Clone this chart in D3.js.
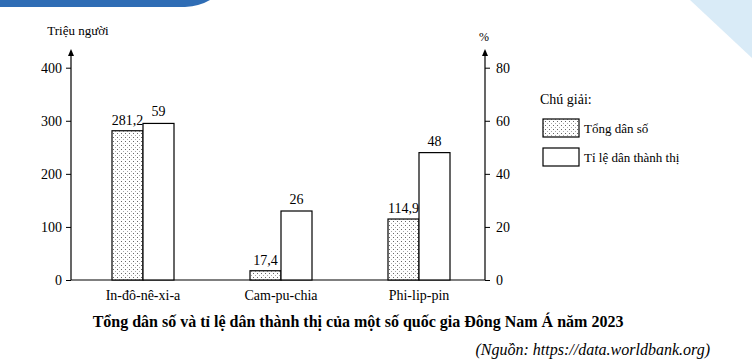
<!DOCTYPE html>
<html>
<head>
<meta charset="utf-8">
<script src="https://cdn.jsdelivr.net/npm/d3@7"></script>
<style>
  body { margin: 0; background: #fff; }
  svg { display: block; }
  svg text { font-family: "Liberation Serif", "Times New Roman", Times, serif !important; }
</style>
</head>
<body>
<script>
const w = 752;
const h = 363;

// data
const countries = ["In-đô-nê-xi-a", "Cam-pu-chia", "Phi-lip-pin"];
const population = [281.2, 17.4, 114.9];
const urbanRate = [59, 26, 48];
const leftTicks = [0, 100, 200, 300, 400];
const rightTicks = [0, 20, 40, 60, 80];

const svg = d3.select("body").append("svg")
  .attr("width", w)
  .attr("height", h);

// dotted fill pattern
const defs = svg.append("defs");
const pat = defs.append("pattern")
  .attr("id", "dots")
  .attr("patternUnits", "userSpaceOnUse")
  .attr("width", 4)
  .attr("height", 4);
pat.append("rect").attr("width", 4).attr("height", 4).attr("fill", "#fff");
pat.append("rect").attr("x", 1).attr("y", 1).attr("width", 1).attr("height", 1).attr("fill", "#666");
pat.append("rect").attr("x", 3).attr("y", 3).attr("width", 1).attr("height", 1).attr("fill", "#aaa");

// page decorations
svg.append("path")
  .attr("d", "M0,0 H210 Q200,6 185,7 H0 Z")
  .attr("fill", "#2f6db5");
svg.append("path")
  .attr("d", "M690,0 H752 V58 Z")
  .attr("fill", "#cfe6f5")
  .attr("opacity", 0.8);

// scales
const x = d3.scaleBand().domain(countries).range([74, 488]);
const yL = d3.scaleLinear().domain([0, 400]).range([280, 67.7]);
const yR = d3.scaleLinear().domain([0, 80]).range([280, 67.7]);
const barW = 31;
const axL = 71, axR = 485;

// axes
const gl = svg.append("g").attr("transform", `translate(${axL},0)`)
  .call(d3.axisLeft(yL).tickValues(leftTicks).tickSize(5).tickPadding(4));
const gr = svg.append("g").attr("transform", `translate(${axR},0)`)
  .call(d3.axisRight(yR).tickValues(rightTicks).tickSize(5).tickPadding(6));
[gl, gr].forEach(g => {
  g.select(".domain").remove();
  g.selectAll("line").attr("stroke", "#000");
  g.selectAll("text").attr("font-size", 14).attr("fill", "#000");
});

// axis lines with arrows
function arrowAxis(xp) {
  svg.append("line").attr("x1", xp).attr("x2", xp).attr("y1", 280).attr("y2", 54)
    .attr("stroke", "#000").attr("stroke-width", 1.2);
  svg.append("path").attr("d", `M${xp},49 L${xp - 3},56 L${xp + 3},56 Z`).attr("fill", "#000");
}
arrowAxis(axL);
arrowAxis(axR);
svg.append("line").attr("x1", axL).attr("x2", axR).attr("y1", 280).attr("y2", 280)
  .attr("stroke", "#000").attr("stroke-width", 1.2);

// unit labels
svg.append("text").attr("x", 78).attr("y", 35).attr("text-anchor", "middle")
  .attr("font-size", 13).text("Triệu người");
svg.append("text").attr("x", 484).attr("y", 41).attr("text-anchor", "middle")
  .attr("font-size", 12).text("%");

// bars
const gb = svg.append("g");
countries.forEach((c, i) => {
  const cx = x(c) + x.bandwidth() / 2;
  gb.append("rect")
    .attr("x", cx - barW).attr("y", yL(population[i]))
    .attr("width", barW).attr("height", yL(0) - yL(population[i]))
    .attr("fill", "url(#dots)").attr("stroke", "#000").attr("stroke-width", 1.2);
  gb.append("rect")
    .attr("x", cx).attr("y", yR(urbanRate[i]))
    .attr("width", barW).attr("height", yR(0) - yR(urbanRate[i]))
    .attr("fill", "#fff").attr("stroke", "#000").attr("stroke-width", 1.2);
  gb.append("text").attr("x", cx - barW / 2).attr("y", yL(population[i]) - 6)
    .attr("text-anchor", "middle").attr("font-size", 14)
    .text(String(population[i]).replace(".", ","));
  gb.append("text").attr("x", cx + barW / 2).attr("y", yR(urbanRate[i]) - 7)
    .attr("text-anchor", "middle").attr("font-size", 14)
    .text(urbanRate[i]);
  gb.append("text").attr("x", cx).attr("y", 300)
    .attr("text-anchor", "middle").attr("font-size", 14).text(c);
});

// legend
const lg = svg.append("g");
lg.append("text").attr("x", 540).attr("y", 104).attr("font-size", 14).text("Chú giải:");
lg.append("rect").attr("x", 543).attr("y", 119).attr("width", 36).attr("height", 18)
  .attr("fill", "url(#dots)").attr("stroke", "#000").attr("stroke-width", 1.2);
lg.append("text").attr("x", 584).attr("y", 133).attr("font-size", 13).text("Tổng dân số");
lg.append("rect").attr("x", 543).attr("y", 148).attr("width", 36).attr("height", 18)
  .attr("fill", "#fff").attr("stroke", "#000").attr("stroke-width", 1.2);
lg.append("text").attr("x", 584).attr("y", 162).attr("font-size", 13).text("Tỉ lệ dân thành thị");

// title and source
svg.append("text").attr("x", 358).attr("y", 327).attr("text-anchor", "middle")
  .attr("font-size", 16).attr("font-weight", "bold")
  .text("Tổng dân số và tỉ lệ dân thành thị của một số quốc gia Đông Nam Á năm 2023");
svg.append("text").attr("x", 710).attr("y", 355).attr("text-anchor", "end")
  .attr("font-size", 16).attr("font-style", "italic")
  .text("(Nguồn: https://data.worldbank.org)");
</script>
</body>
</html>
